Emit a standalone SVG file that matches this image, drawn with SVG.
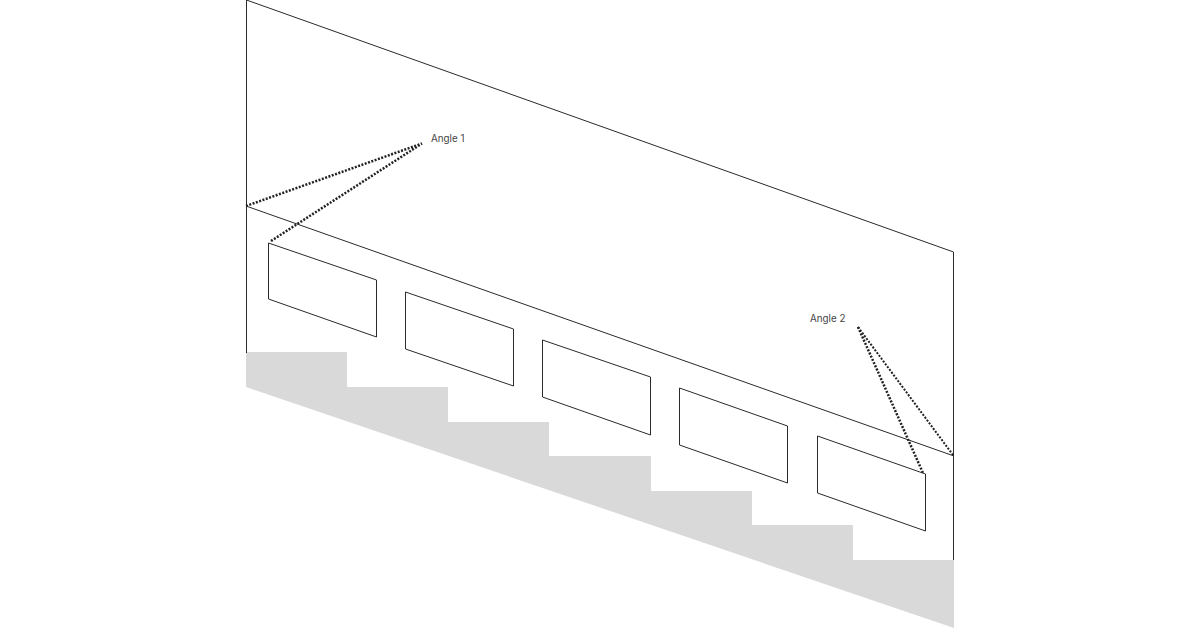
<svg xmlns="http://www.w3.org/2000/svg" width="1200" height="629" viewBox="0 0 1200 629">
<style>
.l{fill:none;stroke:#2a2a2a;stroke-width:1}
.d{fill:none;stroke:#222;stroke-width:2.5;stroke-dasharray:2 1.5}
.n{stroke-width:2}
.t{font-family:Inter,"Liberation Sans",sans-serif;font-size:9.800px;fill:#444}
</style>
<rect width="1200" height="629" fill="#fff"/>
<path id="stairs" fill="#d9d9d9" d="M246 352H347V387H448V422H549V456H651V491H752V525H853V560H954V628L246 387Z"/>
<path id="wall" class="l" d="M246.500 353V0L953.500 252V560M246 206L954 456"/>
<g id="window1"><path class="l" d="M268.500 243L376.500 280V337L268.500 299Z"/></g>
<g id="window2"><path class="l" d="M405.500 292L513.500 329V386L405.500 349Z"/></g>
<g id="window3"><path class="l" d="M542.500 340L650.500 377V435L542.500 397Z"/></g>
<g id="window4"><path class="l" d="M679.500 388L787.500 426V483L679.500 445Z"/></g>
<g id="window5"><path class="l" d="M817.500 436L925.500 474V531L817.500 493Z"/></g>
<g id="connectors">
<path class="d" d="M246 206L422 143.500M271 241L422 143.500"/>
<path class="d n" d="M858 327L953 455"/>
<path class="d" d="M858 327L923 473"/>
</g>
<text id="angle1" class="t" x="431" y="142">Angle 1</text>
<text id="angle2" class="t" x="810" y="322">Angle 2</text>
</svg>
